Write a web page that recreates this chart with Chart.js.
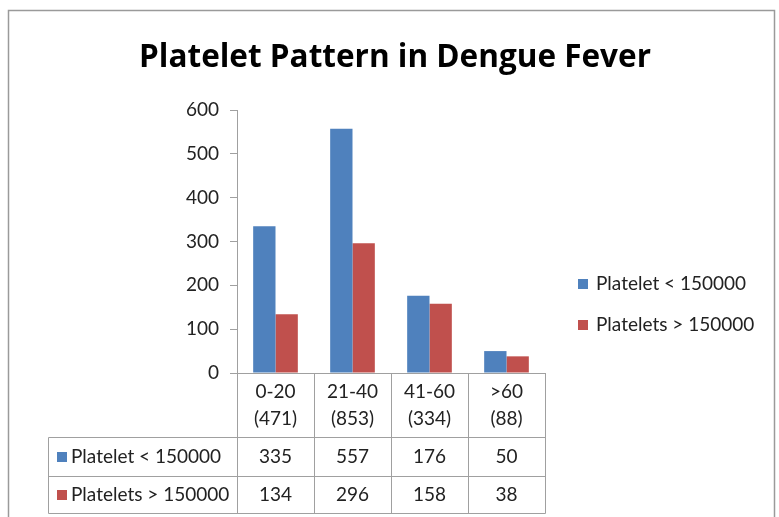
<!DOCTYPE html>
<html>
<head>
<meta charset="utf-8">
<script src="https://cdn.jsdelivr.net/npm/chart.js@4"></script>
<style>
  body { margin: 0; background: #fff; }
</style>
</head>
<body>
<canvas id="plateletChart" width="779" height="517"></canvas>
<script>
// data
const ageGroups = ['0-20', '21-40', '41-60', '>60'];
const groupTotals = ['(471)', '(853)', '(334)', '(88)'];
const belowCount = [335, 557, 176, 50];
const aboveCount = [134, 296, 158, 38];
const seriesNames = ['Platelet < 150000', 'Platelets > 150000'];
const seriesColors = ['#4F81BD', '#C0504D'];
const chartTitle = 'Platelet Pattern in Dengue Fever';

const FONT = 'Lato, "Open Sans", sans-serif';
const lineGray = '#a0a0a0';

// frame, title, right-hand legend and the data table under the axis
const tablePlugin = {
  id: 'tablePlugin',
  beforeDraw(chart) {
    const ctx = chart.ctx;
    ctx.save();
    ctx.strokeStyle = '#9a9a9a';
    ctx.lineWidth = 1.5;
    ctx.beginPath();
    ctx.moveTo(8.5, 517);
    ctx.lineTo(8.5, 10.5);
    ctx.lineTo(774.5, 10.5);
    ctx.lineTo(774.5, 517);
    ctx.stroke();

    ctx.fillStyle = '#000';
    ctx.font = 'bold 31.5px "Open Sans", sans-serif';
    ctx.textAlign = 'center';
    ctx.textBaseline = 'alphabetic';
    ctx.fillText(chartTitle, 395, 67);
    ctx.restore();
  },
  afterDraw(chart) {
    const ctx = chart.ctx;
    const x = chart.scales.x;
    const area = chart.chartArea;
    const step = x.getPixelForValue(1) - x.getPixelForValue(0);
    const tableLeft = 48.5;
    const rowTops = [437.5, 476.5];
    const tableBottom = 513.5;

    ctx.save();
    ctx.strokeStyle = lineGray;
    ctx.lineWidth = 1;
    ctx.beginPath();
    // column separators
    for (let i = 0; i <= ageGroups.length; i++) {
      const px = Math.round(x.getPixelForValue(i) - step / 2) + 0.5;
      ctx.moveTo(px, area.bottom);
      ctx.lineTo(px, tableBottom);
    }
    // row lines
    rowTops.concat([tableBottom]).forEach(y => {
      ctx.moveTo(tableLeft, y);
      ctx.lineTo(area.right + 0.5, y);
    });
    ctx.moveTo(tableLeft, rowTops[0]);
    ctx.lineTo(tableLeft, tableBottom);
    ctx.stroke();

    ctx.font = '19px ' + FONT;
    ctx.textBaseline = 'middle';
    const rows = [belowCount, aboveCount];
    const rowBottoms = [rowTops[1], tableBottom];
    rows.forEach((vals, r) => {
      const cy = (rowTops[r] + rowBottoms[r]) / 2;
      ctx.fillStyle = seriesColors[r];
      ctx.fillRect(57, cy - 5, 10, 10);
      ctx.fillStyle = '#222';
      ctx.textAlign = 'left';
      ctx.fillText(seriesNames[r], 71, cy);
      ctx.textAlign = 'center';
      vals.forEach((v, i) => ctx.fillText(String(v), x.getPixelForValue(i), cy));
    });

    // legend on the right
    const legendY = [284, 325];
    seriesNames.forEach((name, r) => {
      ctx.fillStyle = seriesColors[r];
      ctx.fillRect(578, legendY[r] - 5, 10, 10);
      ctx.fillStyle = '#222';
      ctx.textAlign = 'left';
      ctx.fillText(name, 596, legendY[r]);
    });
    ctx.restore();
  }
};

new Chart(document.getElementById('plateletChart'), {
  type: 'bar',
  data: {
    labels: ageGroups,
    datasets: [
      { label: seriesNames[0], data: belowCount, backgroundColor: seriesColors[0] },
      { label: seriesNames[1], data: aboveCount, backgroundColor: seriesColors[1] }
    ]
  },
  options: {
    responsive: false,
    animation: false,
    categoryPercentage: 0.58,
    barPercentage: 1,
    layout: { padding: { left: 177, right: 234, top: 110, bottom: 0 } },
    plugins: {
      legend: { display: false },
      tooltip: { enabled: false },
      title: { display: false }
    },
    scales: {
      x: {
        grid: { display: false },
        border: { display: true, color: lineGray },
        ticks: {
          color: '#222',
          font: { family: FONT, size: 19, lineHeight: 1.42 },
          padding: -3,
          maxRotation: 0,
          autoSkip: false,
          callback: (v, i) => [ageGroups[i], groupTotals[i]]
        },
        afterFit: s => { s.height = 144; }
      },
      y: {
        min: 0,
        max: 600,
        ticks: {
          stepSize: 100,
          color: '#222',
          font: { family: FONT, size: 19 },
          padding: 11
        },
        grid: { drawOnChartArea: false, tickLength: 7, color: lineGray },
        border: { color: lineGray },
        afterFit: s => { s.width = 60; }
      }
    }
  },
  plugins: [tablePlugin]
});
</script>
</body>
</html>
